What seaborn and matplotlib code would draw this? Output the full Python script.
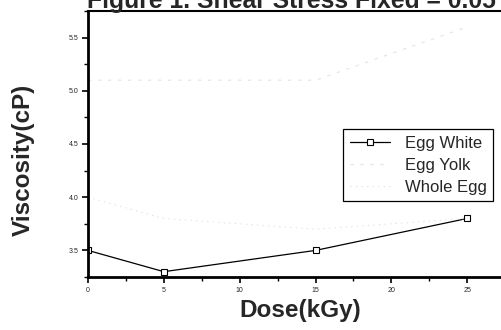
import numpy as np
import pandas as pd
import matplotlib
matplotlib.use("Agg")
import matplotlib.pyplot as plt
from matplotlib.ticker import MultipleLocator
import seaborn as sns

# --- data ---
dose = [0, 5, 15, 25]
egg_white = [3.50, 3.30, 3.50, 3.80]
egg_yolk = [5.10, 5.10, 5.10, 5.60]
whole_egg = [4.00, 3.80, 3.70, 3.80]
series_names = ["Egg White", "Egg Yolk", "Whole Egg"]

df = pd.DataFrame({
    "dose": dose * 3,
    "viscosity": egg_white + egg_yolk + whole_egg,
    "sample": np.repeat(series_names, len(dose)),
})

sns.set_style("ticks")
plt.rcParams["font.family"] = ["Liberation Sans", "DejaVu Sans"]

fig = plt.figure(figsize=(5.01, 3.30), dpi=100)
W, H = 501, 330
# axes runs off the right edge like the scan
ax = fig.add_axes([88 / W, 53 / H, 455 / W, 266 / H])

styles = {
    "Egg White": dict(color="black", lw=0.9, marker="s", ms=4.5, mfc="white",
                      mec="black", mew=0.8, ls="-"),
    "Egg Yolk": dict(color="#e3e3e3", lw=0.8, ls=(0, (3, 6))),
    "Whole Egg": dict(color="#dcdcdc", lw=0.8, ls=(0, (1, 4))),
}

for name in series_names:
    sub = df[df["sample"] == name]
    st = styles[name]
    sns.lineplot(data=sub, x="dose", y="viscosity", ax=ax, label=name,
                 color=st["color"], linewidth=st["lw"], linestyle=st["ls"],
                 marker=st.get("marker"), markersize=st.get("ms", 0),
                 markerfacecolor=st.get("mfc"), markeredgecolor=st.get("mec"),
                 markeredgewidth=st.get("mew", 0), estimator=None, errorbar=None)

ax.set_xlim(0, 30)
ax.set_ylim(3.25, 5.75)
ax.xaxis.set_major_locator(MultipleLocator(5))
ax.xaxis.set_minor_locator(MultipleLocator(2.5))
ax.yaxis.set_major_locator(MultipleLocator(0.5))
ax.yaxis.set_minor_locator(MultipleLocator(0.25))
ax.set_xticks([0, 5, 10, 15, 20, 25])
ax.tick_params(which="major", direction="out", length=4, width=1.2,
               labelsize=5, pad=3, color="black")
ax.tick_params(which="minor", direction="out", length=3, width=1.0, color="black")

ax.spines["left"].set_linewidth(2)
ax.spines["bottom"].set_linewidth(2)
ax.spines["top"].set_visible(True)
ax.spines["top"].set_linewidth(1.5)
ax.spines["right"].set_visible(False)
for s in ax.spines.values():
    s.set_color("black")

ax.set_xlabel("Dose(kGy)", fontsize=17.5, fontweight="bold", va="center")
ax.set_ylabel("Viscosity(cP)", fontsize=17.5, fontweight="bold", va="center")
ax.xaxis.set_label_coords((300 - 88) / 455, -(311 - 277) / 266)
ax.yaxis.set_label_coords(-(88 - 23) / 455, (277 - 160) / 266)

leg = ax.legend(loc="upper left", bbox_to_anchor=(343 / W, 1 - 129 / H),
                bbox_transform=fig.transFigure, fontsize=12, frameon=True,
                fancybox=False, edgecolor="black", framealpha=1,
                handlelength=2.4, handletextpad=0.9, labelspacing=0.42,
                borderpad=0.4, borderaxespad=0)
leg.get_frame().set_linewidth(0.9)

# title is clipped by the top of the scan
fig.text(87 / W, 1 - 8 / H, "Figure 1. Shear Stress Fixed = 0.05",
         ha="left", va="baseline", fontsize=17.8, fontweight="bold")

fig.savefig("out.png", dpi=100)
